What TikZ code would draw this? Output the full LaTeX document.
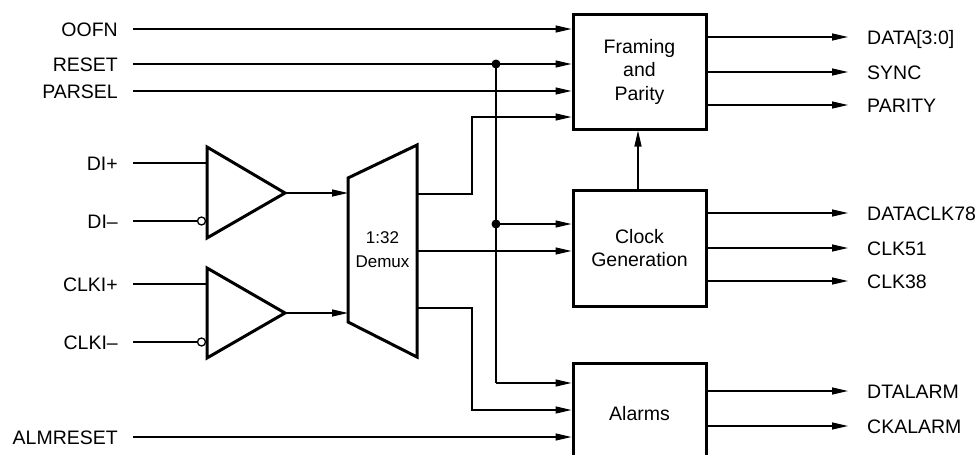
\documentclass[tikz,border=0pt]{standalone}
\usepackage{fontspec}
\setmainfont{Liberation Sans}
\usetikzlibrary{arrows.meta,calc}
\begin{document}
\begin{tikzpicture}[x=1pt,y=-1pt,
  wire/.style={line width=1.3pt},
  arr/.style={wire,-{Triangle[length=16pt,width=7pt]}},
  blk/.style={draw,line width=3pt,minimum width=133pt,align=center,
    font=\fontsize{19.5}{23.5}\selectfont,inner sep=0pt},
  llbl/.style={anchor=east,inner sep=0pt,text height=14pt,text depth=0pt,
    font=\fontsize{19.5}{22}\selectfont},
  rlbl/.style={anchor=west,inner sep=0pt,text height=14pt,text depth=0pt,
    font=\fontsize{19.5}{22}\selectfont},
  dot/.style={circle,fill,inner sep=0pt,minimum size=9pt},
  inv/.style={circle,draw,line width=1.3pt,fill=white,inner sep=0pt,minimum size=8pt},
  gate/.style={line width=3pt,line join=miter}
]
\useasboundingbox (0,0) rectangle (975,455);

% blocks
\node[blk,minimum height=115pt] (fp) at (639.5,71.5) {Framing\\and\\Parity};
\node[blk,minimum height=116pt] (cg) at (639.5,248) {Clock\\Generation};
\node[blk,minimum height=102pt] (al) at (639.5,414) {Alarms};

% left labels
\node[llbl] (oofn) at (118,29) {OOFN};
\node[llbl] (reset) at (118,64) {RESET};
\node[llbl] (parsel) at (118,91) {PARSEL};
\node[llbl] (dip) at (118,163) {DI+};
\node[llbl] (dim) at (118,221) {DI–};
\node[llbl] (ckp) at (118,284) {CLKI+};
\node[llbl] (ckm) at (118,342) {CLKI–};
\node[llbl] (almr) at (118,437) {ALMRESET};

% right labels
\node[rlbl] (data) at (867,37) {DATA[3:0]};
\node[rlbl] (sync) at (867,72) {SYNC};
\node[rlbl] (par) at (867,105) {PARITY};
\node[rlbl] (dclk) at (867,213) {DATACLK78};
\node[rlbl] (c51) at (867,248) {CLK51};
\node[rlbl] (c38) at (867,281) {CLK38};
\node[rlbl] (dta) at (867,391) {DTALARM};
\node[rlbl] (cka) at (867,426) {CKALARM};

% buffers
\coordinate (b1t) at (207,147); \coordinate (b1b) at (207,238); \coordinate (b1o) at (285,193);
\coordinate (b2t) at (207,268); \coordinate (b2b) at (207,358); \coordinate (b2o) at (285,313);
\draw[gate] (b1t) -- (b1o) -- (b1b) -- cycle;
\draw[gate] (b2t) -- (b2o) -- (b2b) -- cycle;
\node[inv] (i1) at (201.5,221) {};
\node[inv] (i2) at (201.5,342) {};

% demux
\coordinate (d1) at (348,178); \coordinate (d2) at (417,145);
\coordinate (d3) at (417,357); \coordinate (d4) at (348,322);
\draw[gate] (d1) -- (d2) -- (d3) -- (d4) -- cycle;
\node[align=center,inner sep=0pt,font=\fontsize{17}{24}\selectfont] (dmx) at (382.5,250) {1:32\\Demux};

% inputs to buffers
\draw[wire] ([xshift=15pt]dip.east) -- (b1t |- dip);
\draw[wire] ([xshift=15pt]dim.east) -- (i1.west);
\draw[wire] ([xshift=15pt]ckp.east) -- (b2t |- ckp);
\draw[wire] ([xshift=15pt]ckm.east) -- (i2.west);
\draw[arr] (b1o) -- (d1 |- b1o);
\draw[arr] (b2o) -- (d1 |- b2o);

% inputs to framing
\draw[arr] ([xshift=15pt]oofn.east) -- (fp.west |- oofn);
\draw[arr] ([xshift=15pt]reset.east) -- (fp.west |- reset);
\draw[arr] ([xshift=15pt]parsel.east) -- (fp.west |- parsel);
\coordinate (j1) at (496,64);
\coordinate (j2) at (496,224);
\node[dot] (dj1) at (j1) {};
\node[dot] (dj2) at (j2) {};
\draw[wire] (dj1.center) -- (496,383) coordinate (jb);
\draw[arr] (jb) -- (al.west |- jb);
\draw[arr] (dj2.center) -- (cg.west |- dj2);

% demux outputs
\coordinate (o1) at (417,194);
\coordinate (o2) at (417,251);
\coordinate (o3) at (417,308);
\draw[arr] (o1) -| (472,117) -- (fp.west |- 0,117);
\draw[arr] (o2) -- (cg.west |- o2);
\draw[arr] (o3) -| (472,410) -- (al.west |- 0,410);
\draw[arr] ([xshift=15pt]almr.east) -- (al.west |- almr);

% clock to framing
\draw[arr] (cg.north -| 638,0) -- (fp.south -| 638,0);

% outputs
\foreach \b/\n in {fp/data,fp/sync,fp/par,cg/dclk,cg/c51,cg/c38,al/dta,al/cka}
  \draw[arr] (\b.east |- \n.west) -- ([xshift=-19pt]\n.west);
\end{tikzpicture}
\end{document}
